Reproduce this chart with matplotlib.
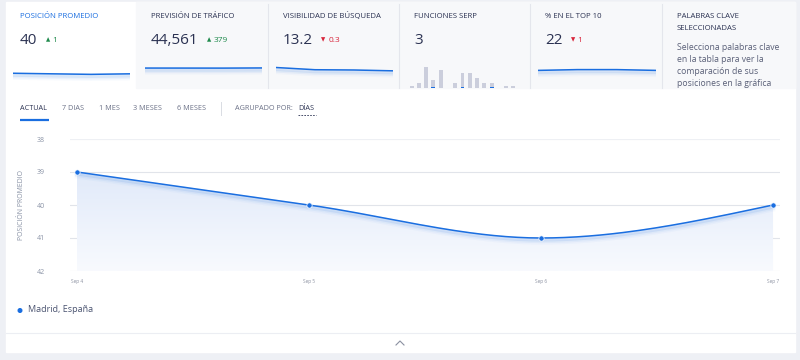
import numpy as np
import matplotlib
matplotlib.use("Agg")
import matplotlib.pyplot as plt
from matplotlib.patches import Rectangle, Circle
from matplotlib import transforms

plt.rcParams['font.family'] = ['Open Sans', 'DejaVu Sans']

# ---- data ----
dates = ['Sep 4', 'Sep 5', 'Sep 6', 'Sep 7']
position = [39, 40, 41, 40]
y_ticks = [38, 39, 40, 41, 42]

pos_trend = [39, 40, 41, 40]
traffic_trend = [44300, 44250, 44182, 44561]
vis_trend = [14.4, 13.6, 13.5, 13.2]
top10_trend = [22, 23, 23, 22]
serp_counts = [2, 5, 21, 8, 18, 0, 5, 15, 15, 10, 5, 5, 0, 2, 2]
serp_own = [0, 0, 0, 1, 0, 0, 0, 1, 0, 0, 0, 1, 0, 0, 0]

cards = [
    ('POSICIÓN PROMEDIO', '40', '▲', '1'),
    ('PREVISIÓN DE TRÁFICO', '44,561', '▲', '379'),
    ('VISIBILIDAD DE BÚSQUEDA', '13.2', '▼', '0.3'),
    ('FUNCIONES SERP', '3', None, None),
    ('% EN EL TOP 10', '22', '▼', '1'),
]
tabs = ['ACTUAL', '7 DIAS', '1 MES', '3 MESES', '6 MESES']
help_lines = ['Selecciona palabras clave', 'en la tabla para ver la',
              'comparación de sus', 'posiciones en la gráfica']

BLUE = '#1a6ee0'
NAVY = '#2b3252'
GRAY = '#6b7187'
GREEN = '#1f8a4c'
RED = '#d8253b'

W, H = 800, 360
fig = plt.figure(figsize=(8, 3.6), dpi=100)


def px_axes(x0, y0, x1, y1, z=1):
    return fig.add_axes([x0 / W, 1 - y1 / H, (x1 - x0) / W, (y1 - y0) / H], zorder=z)


# ---- background / chrome ----
bg = px_axes(0, 0, W, H, z=0)
bg.set_xlim(0, W)
bg.set_ylim(H, 0)
bg.axis('off')
bg.add_patch(Rectangle((0, 0), W, H, color='#eef0f5'))
bg.add_patch(Rectangle((6, 2), 789, 350, color='white'))
bg.add_patch(Rectangle((136, 2), 659, 86, color='#f7f8fa'))
for sx in [268, 399, 530, 662]:
    bg.plot([sx, sx], [4, 88], color='#e4e6ec', lw=0.8)

card_x = [20, 151, 283, 414, 545]
for (title, val, arrow, delta), cx in zip(cards, card_x):
    bg.text(cx, 16, title, fontsize=5.6, color=BLUE if cx == 20 else NAVY,
            va='center', ha='left')
    t = bg.text(cx, 40, val, fontsize=11, color=NAVY, va='center', ha='left')
    if arrow:
        col = GREEN if arrow == '▲' else RED
        bg.annotate(arrow, xy=(1, 0.5), xycoords=t, xytext=(6, 0),
                    textcoords='offset points', fontsize=4, color=col,
                    va='center', family='DejaVu Sans')
        bg.annotate(delta, xy=(1, 0.5), xycoords=t, xytext=(11, 0),
                    textcoords='offset points', fontsize=6, color=col, va='center')

bg.text(677, 16, 'PALABRAS CLAVE', fontsize=5.6, color=NAVY, va='center')
bg.text(677, 29, 'SELECCIONADAS', fontsize=5.6, color=NAVY, va='center')
for i, line in enumerate(help_lines):
    bg.text(677, 47 + 12 * i, line, fontsize=6.2, color='#5a6078', va='center')

# tabs row
tab_x = [20, 62, 99, 133, 177]
for name, tx in zip(tabs, tab_x):
    bg.text(tx, 108, name, fontsize=5.2, color=NAVY if name == 'ACTUAL' else GRAY,
            va='center')
bg.plot([20, 49], [120, 120], color=BLUE, lw=1.6, solid_capstyle='butt')
bg.plot([221, 221], [102, 115], color='#d9dce3', lw=0.7)
bg.text(235, 108, 'AGRUPADO POR:', fontsize=5.2, color=GRAY, va='center')
bg.text(298, 108, 'DÍAS', fontsize=5.2, color=NAVY, va='center')
bg.plot([298, 316], [115, 115], color=NAVY, lw=0.6, ls=(0, (2, 1.5)))

# legend + footer
bg.add_patch(Circle((20, 310.5), 1.8, color=BLUE))
bg.text(28, 310, 'Madrid, España', fontsize=6.5, color='#4a5370', va='center')
bg.plot([6, 795], [333, 333], color='#eceef3', lw=0.8)
bg.plot([396, 400, 404], [345, 341, 345], color='#8a90a0', lw=0.8)
bg.text(22, 205, 'POSICIÓN PROMEDIO', fontsize=5, color='#8a93a6', rotation=90,
        va='center', ha='center')


# ---- sparklines ----
def sparkline(x0, x1, vals, ylo, yhi):
    ax = px_axes(x0, 52, x1, 88, z=2)
    ax.set_xlim(0, len(vals) - 1)
    ax.set_ylim(ylo, yhi)
    ax.axis('off')
    xs = np.arange(len(vals))
    for k, a in [(1.5, 0.10), (3, 0.06), (4.5, 0.03)]:
        off = transforms.offset_copy(ax.transData, fig=fig, x=0, y=-k, units='dots')
        ax.plot(xs, vals, color=BLUE, lw=3, alpha=a, transform=off)
    ax.plot(xs, vals, color=BLUE, lw=1.1)
    return ax


sparkline(13, 130, pos_trend, 66, 0)
sparkline(145, 262, traffic_trend, 0, 80000)
sparkline(276, 393, vis_trend, 7, 20)
sparkline(538, 656, top10_trend, 0, 45)

sb = px_axes(408, 60, 517, 88, z=2)
bx = np.arange(len(serp_counts))
sb.bar(bx, serp_counts, width=0.55, color='#cbcedc')
sb.bar(bx, serp_own, width=0.55, color=BLUE)
sb.set_xlim(-0.5, len(serp_counts) - 0.5)
sb.set_ylim(0, 28)
sb.axis('off')

# ---- main chart ----
ax = px_axes(70, 139, 780, 271, z=2)
x = np.arange(len(position), dtype=float)
y = np.array(position, dtype=float)

# monotone cubic (d3 monotoneX style) for the drawn curve
h = np.diff(x)
s = np.diff(y) / h
t = np.zeros_like(y)
for i in range(1, len(y) - 1):
    p = (s[i - 1] * h[i] + s[i] * h[i - 1]) / (h[i - 1] + h[i])
    t[i] = (np.sign(s[i - 1]) + np.sign(s[i])) * min(abs(s[i - 1]), abs(s[i]), 0.5 * abs(p))
t[0] = (3 * s[0] - t[1]) / 2
t[-1] = (3 * s[-1] - t[-2]) / 2
xx, yy = [], []
for i in range(len(y) - 1):
    u = np.linspace(0, 1, 60)
    h00 = 2 * u**3 - 3 * u**2 + 1
    h10 = u**3 - 2 * u**2 + u
    h01 = -2 * u**3 + 3 * u**2
    h11 = u**3 - u**2
    xx.append(x[i] + u * h[i])
    yy.append(h00 * y[i] + h10 * h[i] * t[i] + h01 * y[i + 1] + h11 * h[i] * t[i + 1])
xx = np.concatenate(xx)
yy = np.concatenate(yy)

ax.set_xlim(-0.03, 3.03)
ax.set_ylim(42, 38)
for v in y_ticks:
    if v == 38:
        ax.axhline(v, color='#eef0f4', lw=1.6, zorder=0)
    else:
        ax.axhline(v, color='#e1e4ea', lw=0.8, zorder=0)

poly = ax.fill_between(xx, yy, 42, color='none', lw=0)
grad = np.linspace(0, 1, 100).reshape(-1, 1)
im = ax.imshow(grad, extent=(0, 3, 42, 38.9), aspect='auto', origin='upper',
               cmap=matplotlib.colors.LinearSegmentedColormap.from_list(
                   'g', ['#e0e9f9', '#f8fafe']), zorder=1)
im.set_clip_path(poly.get_paths()[0], transform=ax.transData)

for k, a in [(1.5, 0.10), (3, 0.05), (4.5, 0.03)]:
    off = transforms.offset_copy(ax.transData, fig=fig, x=0, y=-k, units='dots')
    ax.plot(xx, yy, color=BLUE, lw=3, alpha=a, transform=off, zorder=2)
ax.plot(xx, yy, color=BLUE, lw=1.1, zorder=3)
ax.plot(x, y, 'o', color=BLUE, ms=3.8, mec='white', mew=0.5, zorder=4)

ax.set_xticks(x)
ax.set_xticklabels(dates, fontsize=3.4, color='#8a90a0')
ax.set_yticks(y_ticks)
ax.set_yticklabels([str(v) for v in y_ticks], fontsize=5, color='#8a93a6')
ax.tick_params(axis='y', length=0, pad=18)
ax.tick_params(axis='x', length=0, pad=6)
for sp in ax.spines.values():
    sp.set_visible(False)
ax.set_facecolor('none')

fig.savefig('out.png', dpi=100)
